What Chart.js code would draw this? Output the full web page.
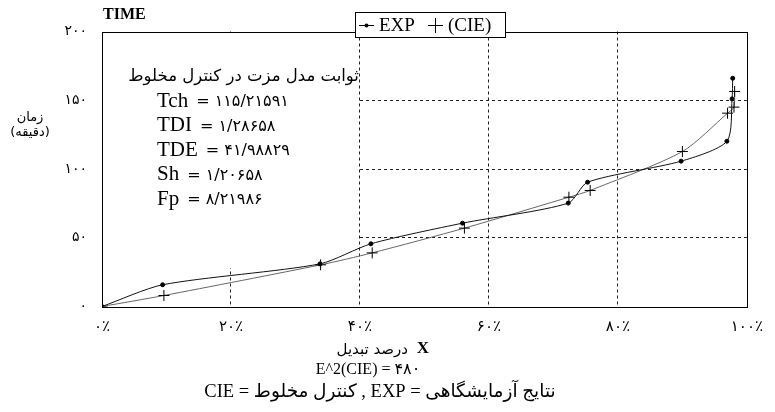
<!DOCTYPE html>
<html>
<head>
<meta charset="utf-8">
<script src="https://cdn.jsdelivr.net/npm/chart.js@4.4.1/dist/chart.umd.min.js"></script>
<style>
  body { margin: 0; background: #fff; }
  canvas { display: block; }
</style>
</head>
<body>
<canvas id="chart" width="775" height="412"></canvas>
<script>
// conversion (%) and time (min)
const expX = [0, 9.4, 33.8, 41.7, 55.9, 72.3, 75.3, 89.8, 96.9, 97.7, 97.8];
const expY = [0, 15.8, 31.0, 45.6, 60.6, 75.2, 90.4, 105.7, 120.2, 151.0, 166.0];
const cieX = [0, 9.6, 33.9, 41.9, 56.2, 72.4, 75.7, 90.0, 97.0, 98.0, 98.1];
const cieY = [0, 8.0, 30.3, 39.0, 57.0, 79.5, 84.4, 112.7, 140.6, 145.0, 156.4];

// fitted constants shown in the box
const paramNames = ['Tch', 'TDI', 'TDE', 'Sh', 'Fp'];
const paramValues = ['۱۱۵/۲۱۵۹۱', '۱/۲۸۶۵۸', '۴۱/۹۸۸۲۹', '۱/۲۰۶۵۸', '۸/۲۱۹۸۶'];

const seriesNames = ['EXP', '(CIE)'];

const faDigits = '۰۱۲۳۴۵۶۷۸۹';
function toFa(n) {
    return String(n).replace(/[0-9]/g, d => faDigits[+d]);
}

const serif = "'Liberation Serif', 'DejaVu Serif', serif";
const fa = "'DejaVu Sans', sans-serif";

function pairs(xs, ys) {
    return xs.map((x, i) => ({ x: x, y: ys[i] }));
}

// white note box, frame and the extra texts
const decor = {
    id: 'decor',
    beforeDatasetsDraw(chart) {
        const c = chart.ctx;
        const a = chart.chartArea;
        const sx = chart.scales.x, sy = chart.scales.y;
        c.save();
        // note box hides the grid behind it
        c.fillStyle = '#fff';
        const boxR = sx.getPixelForValue(40) - 1;
        const boxB = sy.getPixelForValue(28);
        c.fillRect(a.left + 1, a.top + 1, boxR - a.left - 1, boxB - a.top - 1);

        c.strokeStyle = '#000';
        c.lineWidth = 1;
        c.strokeRect(Math.round(a.left) + 0.5, Math.round(a.top) + 0.5,
            Math.round(a.right - a.left), Math.round(a.bottom - a.top));

        c.fillStyle = '#000';
        c.textBaseline = 'middle';
        c.font = '16.5px ' + fa;
        c.direction = 'rtl';
        c.textAlign = 'right';
        c.fillText('ثوابت مدل مزت در کنترل مخلوط', boxR, 77);
        c.direction = 'ltr';
        c.textAlign = 'left';
        paramNames.forEach((name, i) => {
            const yy = 101 + i * 24.5;
            c.font = '21px ' + serif;
            c.fillText(name, 157, yy);
            const w = c.measureText(name).width;
            c.font = '16px ' + fa;
            c.fillText('= ' + paramValues[i], 157 + w + 8, yy + 1);
        });
        c.restore();
    },
    afterDraw(chart) {
        const c = chart.ctx;
        c.save();
        c.fillStyle = '#000';
        c.strokeStyle = '#000';
        c.textBaseline = 'middle';

        // TIME
        c.font = 'bold 16px ' + serif;
        c.textAlign = 'left';
        c.fillText('TIME', 103, 15);

        // y title
        c.font = '13px ' + fa;
        c.textAlign = 'center';
        c.direction = 'rtl';
        c.fillText('زمان', 30, 118);
        c.fillText('(دقیقه)', 30, 133);
        c.direction = 'ltr';

        // legend
        c.fillStyle = '#fff';
        c.fillRect(355.5, 12.5, 150, 25);
        c.strokeRect(355.5, 12.5, 150, 25);
        c.fillStyle = '#000';
        c.beginPath();
        c.moveTo(359, 25.5); c.lineTo(374, 25.5);
        c.stroke();
        c.beginPath();
        c.arc(366.5, 25.5, 2, 0, Math.PI * 2);
        c.fill();
        c.font = '19px ' + serif;
        c.textAlign = 'left';
        c.fillText(seriesNames[0], 379, 26);
        c.beginPath();
        c.moveTo(428, 25.5); c.lineTo(443, 25.5);
        c.moveTo(435.5, 18); c.lineTo(435.5, 33);
        c.stroke();
        c.fillText(seriesNames[1], 448, 26);

        // bottom texts
        c.textAlign = 'center';
        c.font = 'bold 17px ' + serif;
        c.fillText('X', 423, 349);
        c.font = '15px ' + fa;
        c.direction = 'rtl';
        c.textAlign = 'right';
        c.fillText('درصد تبدیل', 408, 350);
        c.direction = 'ltr';
        c.textAlign = 'center';
        c.font = '16px ' + serif + ", 'DejaVu Sans'";
        c.fillText('E^2(CIE) = ۴۸۰', 368, 370);
        c.direction = 'rtl';
        c.font = '18.5px ' + serif + ", 'DejaVu Sans'";
        c.fillText('نتایج آزمایشگاهی = EXP , کنترل مخلوط = CIE', 380, 392);
        c.restore();
    }
};

const gridColor = ctx => (ctx.tick && (ctx.tick.value === 0 || ctx.tick.value === ctx.scale.max)) ? 'rgba(0,0,0,0)' : '#222';

new Chart(document.getElementById('chart').getContext('2d'), {
    type: 'line',
    data: {
        datasets: [
            {
                label: seriesNames[0],
                data: pairs(expX, expY),
                borderColor: '#111',
                borderWidth: 1,
                pointStyle: 'circle',
                pointRadius: 2,
                pointBackgroundColor: '#000',
                pointBorderColor: '#000',
                tension: 0.25,
                fill: false
            },
            {
                label: seriesNames[1],
                data: pairs(cieX, cieY),
                borderColor: '#666',
                borderWidth: 1,
                pointStyle: 'cross',
                pointRadius: 5.5,
                pointBorderColor: '#000',
                pointBorderWidth: 1,
                tension: 0.25,
                fill: false
            }
        ]
    },
    options: {
        responsive: false,
        animation: false,
        layout: { padding: { top: 31.5, right: 23, left: 0, bottom: 0 } },
        plugins: {
            legend: { display: false },
            tooltip: { enabled: false }
        },
        scales: {
            x: {
                type: 'linear',
                min: 0,
                max: 100,
                afterFit: s => { s.height = 105.5; },
                ticks: {
                    stepSize: 20,
                    padding: 12,
                    color: '#000',
                    font: { family: fa, size: 15 },
                    callback: v => toFa(v) + '٪'
                },
                grid: { color: gridColor, drawTicks: false, lineWidth: 1 },
                border: { display: false, dash: [3, 3] }
            },
            y: {
                min: 0,
                max: 200,
                afterFit: s => { s.width = 102; },
                ticks: {
                    stepSize: 50,
                    padding: 15,
                    color: '#000',
                    font: { family: fa, size: 14 },
                    callback: v => toFa(v)
                },
                grid: { color: gridColor, drawTicks: false, lineWidth: 1 },
                border: { display: false, dash: [3, 3] }
            }
        }
    },
    plugins: [decor]
});
</script>
</body>
</html>
